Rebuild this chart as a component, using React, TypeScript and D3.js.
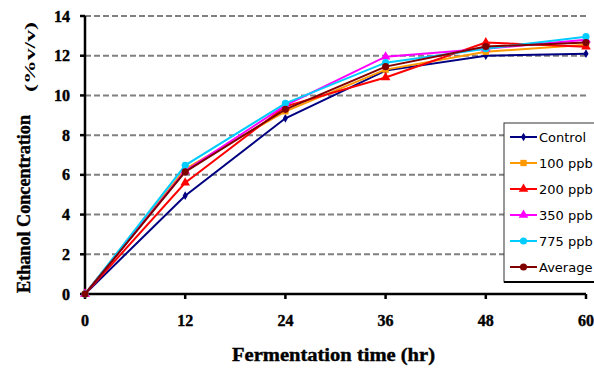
import React from "react";
import * as d3 from "d3";

const hours = [0, 12, 24, 36, 48, 60];
const control = [0, 4.95, 8.85, 11.25, 12.0, 12.1];
const ppb100 = [0, 6.3, 9.2, 11.3, 12.2, 12.55];
const ppb200 = [0, 5.6, 9.45, 10.9, 12.66, 12.45];
const ppb350 = [0, 6.2, 9.5, 11.95, 12.35, 12.8];
const ppb775 = [0, 6.48, 9.6, 11.65, 12.35, 12.96];
const average = [0, 6.15, 9.3, 11.45, 12.46, 12.66];

const seriesNames = ["Control", "100 ppb", "200 ppb", "350 ppb", "775 ppb", "Average"];
const seriesValues = [control, ppb100, ppb200, ppb350, ppb775, average];
const seriesColors = ["#000080", "#FF9900", "#FF0000", "#FF00FF", "#00CCFF", "#800000"];
const seriesMarkers = ["diamond", "square", "triangle", "triangle", "circle", "circle"];

const xTicks = [0, 12, 24, 36, 48, 60];
const yTicks = [0, 2, 4, 6, 8, 10, 12, 14];

const markerPath = (type: string, size: number) => {
  const map: Record<string, d3.SymbolType> = {
    diamond: d3.symbolDiamond,
    square: d3.symbolSquare,
    triangle: d3.symbolTriangle,
    circle: d3.symbolCircle,
  };
  return d3.symbol().type(map[type]).size(size)() as string;
};
const markerSize: Record<string, number> = { diamond: 22, square: 40, triangle: 40, circle: 40 };

export default function App() {
  const x = d3.scaleLinear().domain([0, 60]).range([85, 586]);
  const y = d3.scaleLinear().domain([0, 14]).range([294, 16]);
  const line = d3
    .line<number>()
    .x((_, i) => x(hours[i]))
    .y((d) => y(d));

  const serif = "'Liberation Serif', 'Times New Roman', serif";
  const sans = "Tahoma, 'DejaVu Sans', Verdana, sans-serif";

  return (
    <svg
      width={594}
      height={369}
      style={{ position: "absolute", left: 0, top: 0, background: "#fff" }}
    >
      <rect width={594} height={369} fill="#fff" />
      {/* grid */}
      {yTicks
        .filter((t) => t > 0)
        .map((t) => (
          <line
            key={"g" + t}
            x1={x(0)}
            x2={586}
            y1={y(t)}
            y2={y(t)}
            stroke="#808080"
            strokeWidth={2}
            strokeDasharray="6,3"
          />
        ))}
      {/* axes */}
      <line x1={x(0)} x2={x(0)} y1={y(14)} y2={y(0)} stroke="#000" strokeWidth={2.5} />
      <line x1={x(0)} x2={x(60)} y1={y(0)} y2={y(0)} stroke="#000" strokeWidth={2.5} />
      {yTicks.map((t) => (
        <g key={"yt" + t}>
          <line x1={x(0) - 5} x2={x(0)} y1={y(t)} y2={y(t)} stroke="#000" strokeWidth={2.5} />
          <text
            x={70}
            y={y(t)}
            dy="0.35em"
            textAnchor="end"
            fontFamily={serif}
            fontWeight="bold"
            fontSize={16}
            stroke="#000"
            strokeWidth={0.4}
          >
            {t}
          </text>
        </g>
      ))}
      {xTicks.map((t) => (
        <g key={"xt" + t}>
          <line x1={x(t)} x2={x(t)} y1={y(0)} y2={y(0) + 5} stroke="#000" strokeWidth={2.5} />
          <text
            x={x(t)}
            y={326}
            textAnchor="middle"
            fontFamily={serif}
            fontWeight="bold"
            fontSize={16}
            stroke="#000"
            strokeWidth={0.4}
          >
            {t}
          </text>
        </g>
      ))}
      {/* series */}
      {seriesValues.map((vals, si) => (
        <g key={"s" + si}>
          <path d={line(vals) as string} fill="none" stroke={seriesColors[si]} strokeWidth={2} />
          {vals.map((v, i) => (
            <path
              key={i}
              d={markerPath(seriesMarkers[si], markerSize[seriesMarkers[si]])}
              transform={`translate(${x(hours[i])},${y(v)})`}
              fill={seriesColors[si]}
            />
          ))}
        </g>
      ))}
      {/* legend */}
      <rect x={504} y={123} width={100} height={159} fill="#fff" stroke="#333" strokeWidth={1} />
      <line x1={504} x2={594} y1={282} y2={282} stroke="#000" strokeWidth={2} />
      {seriesNames.map((n, i) => {
        const ly = 137 + i * 26;
        return (
          <g key={"l" + i}>
            <line x1={510} x2={537} y1={ly} y2={ly} stroke={seriesColors[i]} strokeWidth={2} />
            <path
              d={markerPath(seriesMarkers[i], markerSize[seriesMarkers[i]])}
              transform={`translate(523.5,${ly})`}
              fill={seriesColors[i]}
            />
            <text x={539} y={ly} dy="0.35em" fontFamily={sans} fontSize={13} fill="#000">
              {n}
            </text>
          </g>
        );
      })}
      {/* axis titles */}
      <text
        x={232}
        y={361}
        textLength={203}
        lengthAdjust="spacingAndGlyphs"
        fontFamily={serif}
        fontWeight="bold"
        fontSize={18}
        stroke="#000"
        strokeWidth={0.4}
      >
        Fermentation time (hr)
      </text>
      <text
        transform="translate(30,293) rotate(-90)"
        textLength={178}
        lengthAdjust="spacingAndGlyphs"
        fontFamily={serif}
        fontWeight="bold"
        fontSize={18}
        stroke="#000"
        strokeWidth={0.4}
      >
        Ethanol Concentration
      </text>
      <text
        transform="translate(35,92) rotate(-90)"
        textLength={70}
        lengthAdjust="spacingAndGlyphs"
        fontFamily={serif}
        fontWeight="bold"
        fontSize={15}
      >
        (%v/v)
      </text>
    </svg>
  );
}
